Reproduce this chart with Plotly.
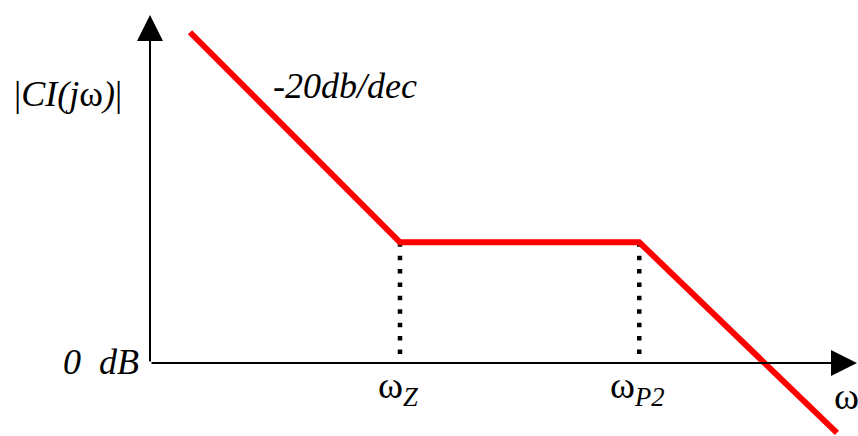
import numpy as np
import plotly.graph_objects as go

# Asymptotic magnitude of CI(jw): -20 dB/dec, flat between wZ and wP2, then rolling off
omega = [1.0, 100.0, 19000.0, 1.45e6]        # rad/s (log axis)
mag_db = [63.0, 23.0, 23.0, -13.3]           # dB

omega_axis = 0.416     # where the magnitude axis stands
mag_top = 66.3         # tip of the magnitude axis arrow (dB)
omega_right = 2.25e6   # tip of the frequency axis arrow

W, H = 858, 436
x_range = [-1.8095, 6.362]     # log10(omega)
y_range = [-13.905, 69.143]    # dB

fig = go.Figure()

# dotted guides from each corner frequency down to 0 dB
for w in (omega[1], omega[2]):
    fig.add_trace(go.Scatter(
        x=[w, w], y=[mag_db[1], 0.0], mode="lines",
        line=dict(color="black", width=4.5, dash="4.5px,8.9px"),
        hoverinfo="skip", showlegend=False))

# asymptote
fig.add_trace(go.Scatter(
    x=omega, y=mag_db, mode="lines",
    line=dict(color="#ff0000", width=6),
    hoverinfo="skip", showlegend=False))

lx = np.log10
arrow_kw = dict(showarrow=True, arrowhead=2, arrowsize=2.6, arrowwidth=2,
                arrowcolor="black", axref="x", ayref="y", xref="x", yref="y",
                text="", standoff=0, startstandoff=0)
annotations = [
    dict(x=lx(omega_axis), y=mag_top, ax=lx(omega_axis), ay=0.0, **arrow_kw),
    dict(x=lx(omega_right), y=0.0, ax=lx(omega_axis), ay=0.0, **arrow_kw),
]

SERIF = "Liberation Serif"

def label(text, px, py, size=36):
    return dict(text=text, x=px / W, y=1 - py / H, xref="paper", yref="paper",
                showarrow=False, xanchor="center", yanchor="middle",
                font=dict(family=SERIF, size=size, color="black"))

annotations += [
    label("|<i>CI(j</i>ω<i>)</i>|", 68, 94),
    label("<i>-20db/dec</i>", 345, 86),
    label("<i>0  dB</i>", 101, 362),
    label("ω<sub><i>Z</i></sub>", 398, 388, 38),
    label("ω<sub><i>P2</i></sub>", 637, 388, 38),
    label("ω", 846, 396, 38),
]

fig.update_layout(
    width=W, height=H,
    margin=dict(l=0, r=0, t=0, b=0),
    paper_bgcolor="white", plot_bgcolor="white",
    font=dict(family=SERIF),
    xaxis=dict(type="log", range=x_range, visible=False),
    yaxis=dict(range=y_range, visible=False),
    annotations=annotations,
)

fig.write_html("out.html")
